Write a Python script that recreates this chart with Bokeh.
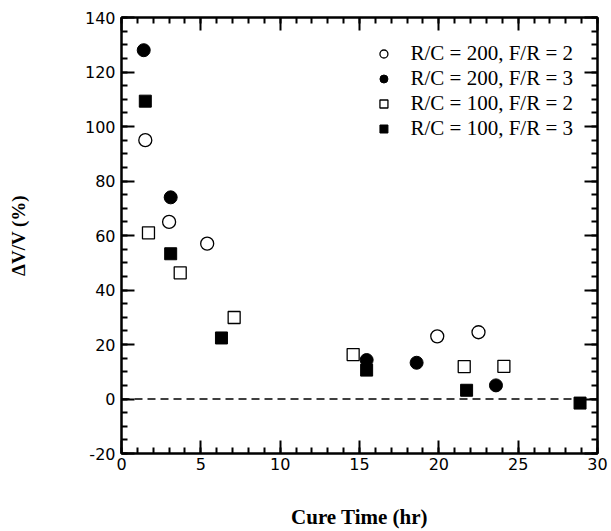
from bokeh.plotting import figure
from bokeh.models import LinearAxis, FixedTicker, Legend, LegendItem, Range1d, Span
from bokeh.embed import file_html
from bokeh.resources import INLINE

# Data
x_rc200_fr2 = [1.5, 3.0, 5.4, 19.9, 22.5]
y_rc200_fr2 = [95, 65, 57, 23, 24.5]
x_rc200_fr3 = [1.4, 3.1, 15.45, 18.6, 23.6]
y_rc200_fr3 = [128, 74, 14.3, 13.3, 5.0]
x_rc100_fr2 = [1.7, 3.7, 7.1, 14.6, 21.6, 24.1]
y_rc100_fr2 = [61, 46.3, 29.9, 16.3, 11.9, 12.0]
x_rc100_fr3 = [1.5, 3.1, 6.3, 15.45, 21.75, 28.9]
y_rc100_fr3 = [109.3, 53.3, 22.4, 10.6, 3.2, -1.5]

labels = ["R/C = 200, F/R = 2", "R/C = 200, F/R = 3",
          "R/C = 100, F/R = 2", "R/C = 100, F/R = 3"]

x_ticks = [0, 5, 10, 15, 20, 25, 30]
x_minor = [i for i in range(0, 31)]
y_ticks = [-20, 0, 20, 40, 60, 80, 100, 120, 140]
y_minor = [v for v in range(-20, 141, 5)]
y_tick_labels = {-20: "-20"}

W, H = 611, 531
p = figure(width=W, height=H, output_backend="svg", toolbar_location=None,
           x_range=Range1d(0, 30), y_range=Range1d(-20, 140),
           min_border_left=121, min_border_right=14, min_border_top=17, min_border_bottom=74)
p.xgrid.visible = False
p.ygrid.visible = False
p.outline_line_color = "black"
p.outline_line_width = 2
p.background_fill_color = "white"
p.border_fill_color = "white"

tick_font = "DejaVu Sans"
label_font = "Liberation Serif"

def style_axis(ax, ticks, minor, show_labels=True):
    ax.ticker = FixedTicker(ticks=ticks, minor_ticks=minor)
    ax.axis_line_width = 2
    ax.axis_line_color = "black"
    ax.major_tick_in = 13
    ax.major_tick_out = 0
    ax.minor_tick_in = 6
    ax.minor_tick_out = 0
    ax.major_tick_line_width = 2
    ax.minor_tick_line_width = 2
    ax.major_tick_line_color = "black"
    ax.minor_tick_line_color = "black"
    ax.major_label_text_font = tick_font
    ax.major_label_text_font_size = "16px"
    ax.major_label_text_color = "black"
    if not show_labels:
        ax.major_label_overrides = {t: "" for t in ticks}

xa = p.xaxis[0]
ya = p.yaxis[0]
style_axis(xa, x_ticks, x_minor)
style_axis(ya, y_ticks, y_minor)
ya.major_label_overrides = y_tick_labels
xa.major_label_standoff = 4
ya.major_label_standoff = 6
xa.axis_label = "Cure Time (hr)"
ya.axis_label = "ΔV/V (%)"
for ax in (xa, ya):
    ax.axis_label_text_font = label_font
    ax.axis_label_text_font_style = "bold"
    ax.axis_label_text_color = "black"
xa.axis_label_text_font_size = "21px"
ya.axis_label_text_font_size = "19px"
xa.axis_label_standoff = 32
ya.axis_label_standoff = 53

top = LinearAxis()
style_axis(top, x_ticks, x_minor, show_labels=False)
p.add_layout(top, "above")
right = LinearAxis()
style_axis(right, y_ticks, y_minor, show_labels=False)
p.add_layout(right, "right")

zero = Span(location=0, dimension="width", line_color="black", line_width=1.5,
            line_dash="8 5", level="underlay")
p.add_layout(zero)

r1 = p.scatter(x_rc200_fr2, y_rc200_fr2, marker="circle", size=13,
               fill_color="white", line_color="black", line_width=1.3)
r2 = p.scatter(x_rc200_fr3, y_rc200_fr3, marker="circle", size=13,
               fill_color="black", line_color="black", line_width=1)
r3 = p.scatter(x_rc100_fr2, y_rc100_fr2, marker="square", size=12,
               fill_color="white", line_color="black", line_width=1.3)
r4 = p.scatter(x_rc100_fr3, y_rc100_fr3, marker="square", size=12,
               fill_color="black", line_color="black", line_width=1)

legend = Legend(items=[LegendItem(label=labels[0], renderers=[r1]),
                       LegendItem(label=labels[1], renderers=[r2]),
                       LegendItem(label=labels[2], renderers=[r3]),
                       LegendItem(label=labels[3], renderers=[r4])],
                location="top_right")
legend.border_line_alpha = 0
legend.background_fill_alpha = 0
legend.label_text_font = label_font
legend.label_text_font_size = "21px"
legend.label_text_color = "black"
legend.label_height = 23
legend.glyph_height = 23
legend.glyph_width = 20
legend.spacing = 0
legend.label_standoff = 17
legend.margin = 18
legend.padding = 6
p.add_layout(legend)

open("out.html", "w").write(file_html(p, INLINE))
